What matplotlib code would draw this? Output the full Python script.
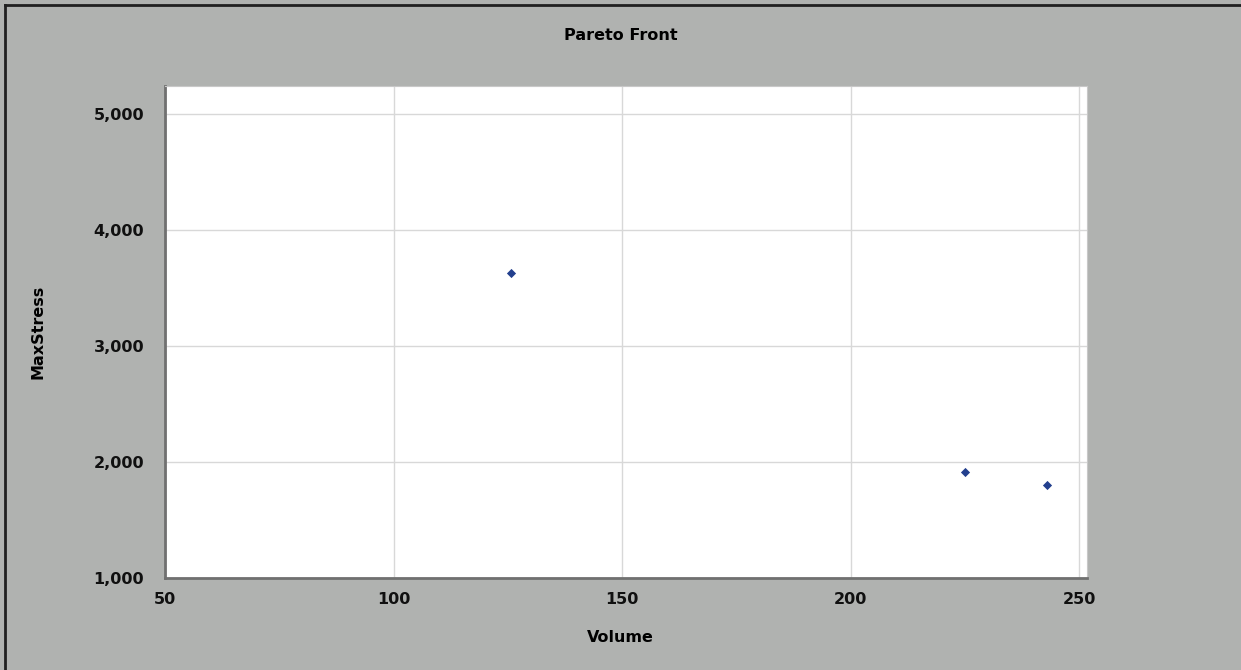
import matplotlib.pyplot as plt
from matplotlib.lines import Line2D

# Pareto front points
volume = [125.7, 225.0, 243.0]
max_stress = [3630, 1910, 1800]

x_ticks = [50, 100, 150, 200, 250]
y_ticks = [1000, 2000, 3000, 4000, 5000]

plt.rcParams['font.family'] = ['DejaVu Sans']
plt.rcParams['font.weight'] = 'bold'
fs = 11.5

bg = '#b0b2b0'
fig = plt.figure(figsize=(12.41, 6.70), dpi=100, facecolor=bg)
ax = fig.add_axes([165 / 1241, 1 - 578 / 670, (1087 - 165) / 1241, (578 - 86) / 670])
ax.set_facecolor('white')

ax.scatter(volume, max_stress, marker='D', s=22, color='#23408e', zorder=3, linewidths=0)

ax.set_xlim(50, 251.7)
ax.set_ylim(1000, 5241)
ax.set_xticks(x_ticks)
ax.set_yticks(y_ticks)
ax.set_yticklabels([f'{v:,}' for v in y_ticks])
ax.grid(True, color='#d8d8d8', linewidth=1)
ax.tick_params(axis='x', length=0, labelsize=fs, pad=10)
ax.tick_params(axis='y', length=0, labelsize=fs, pad=15)
for lbl in ax.get_xticklabels() + ax.get_yticklabels():
    lbl.set_fontweight('bold')
    lbl.set_color('#101010')

for side in ['top', 'right']:
    ax.spines[side].set_color('#c8c8c8')
for side in ['left', 'bottom']:
    ax.spines[side].set_color('#707070')
    ax.spines[side].set_linewidth(2)

fig.text(0.5, 1 - 35 / 670, 'Pareto Front', ha='center', va='center', fontsize=fs, fontweight='bold')
fig.text(0.5, 1 - 637 / 670, 'Volume', ha='center', va='center', fontsize=fs, fontweight='bold')
fig.text(38 / 1241, 1 - 332 / 670, 'MaxStress', ha='center', va='center', rotation=90,
         fontsize=fs, fontweight='bold')

# dark frame edges at top and left
fig.add_artist(Line2D([5 / 1241, 1], [1 - 5 / 670, 1 - 5 / 670], color='#202020', linewidth=2,
                      transform=fig.transFigure))
fig.add_artist(Line2D([5 / 1241, 5 / 1241], [0, 1 - 5 / 670], color='#202020', linewidth=2,
                      transform=fig.transFigure))

fig.savefig('out.png', dpi=100, facecolor=bg)
